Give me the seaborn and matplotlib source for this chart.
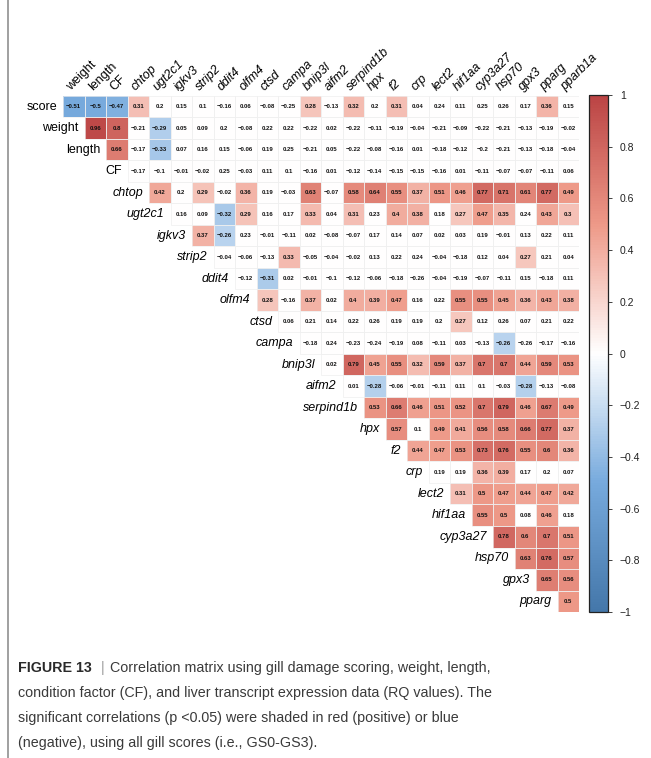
import numpy as np
import pandas as pd
import matplotlib
matplotlib.use("Agg")
import matplotlib.pyplot as plt
from matplotlib.colors import LinearSegmentedColormap
from matplotlib.lines import Line2D
from matplotlib.patches import Rectangle
from matplotlib.collections import PatchCollection
from matplotlib import font_manager
import seaborn as sns

# Variables in matrix order
variables = ["score", "weight", "length", "CF", "chtop", "ugt2c1", "igkv3",
             "strip2", "ddit4", "olfm4", "ctsd", "campa", "bnip3l", "aifm2",
             "serpind1b", "hpx", "f2", "crp", "lect2", "hif1aa", "cyp3a27",
             "hsp70", "gpx3", "pparg", "pparb1a"]

# Upper-triangle correlations, one list per row (columns start right of the diagonal)
r_score = [-0.51, -0.5, -0.47, 0.31, 0.2, 0.15, 0.1, -0.16, 0.06, -0.08, -0.25, 0.28,
           -0.13, 0.32, 0.2, 0.31, 0.04, 0.24, 0.11, 0.25, 0.26, 0.17, 0.36, 0.15]
r_weight = [0.96, 0.8, -0.21, -0.29, 0.05, 0.09, 0.2, -0.08, 0.22, 0.22, -0.22, 0.02,
            -0.22, -0.11, -0.19, -0.04, -0.21, -0.09, -0.22, -0.21, -0.13, -0.19, -0.02]
r_length = [0.66, -0.17, -0.33, 0.07, 0.16, 0.15, -0.06, 0.19, 0.25, -0.21, 0.05,
            -0.22, -0.08, -0.16, 0.01, -0.18, -0.12, -0.2, -0.21, -0.13, -0.18, -0.04]
r_cf = [-0.17, -0.1, -0.01, -0.02, 0.25, -0.03, 0.11, 0.1, -0.16, 0.01, -0.12,
        -0.14, -0.15, -0.15, -0.16, 0.01, -0.11, -0.07, -0.07, -0.11, 0.06]
r_chtop = [0.42, 0.2, 0.29, -0.02, 0.36, 0.19, -0.03, 0.63, -0.07, 0.58, 0.64,
           0.55, 0.37, 0.51, 0.46, 0.77, 0.71, 0.61, 0.77, 0.49]
r_ugt2c1 = [0.16, 0.09, -0.32, 0.29, 0.16, 0.17, 0.33, 0.04, 0.31, 0.23, 0.4,
            0.38, 0.18, 0.27, 0.47, 0.35, 0.24, 0.43, 0.3]
r_igkv3 = [0.37, -0.26, 0.23, -0.01, -0.11, 0.02, -0.08, -0.07, 0.17, 0.14, 0.07,
           0.02, 0.03, 0.19, -0.01, 0.13, 0.22, 0.11]
r_strip2 = [-0.04, -0.06, -0.13, 0.33, -0.05, -0.04, -0.02, 0.13, 0.22, 0.24,
            -0.04, -0.18, 0.12, 0.04, 0.27, 0.21, 0.04]
r_ddit4 = [-0.12, -0.31, 0.02, -0.01, -0.1, -0.12, -0.06, -0.18, -0.26, -0.04,
           -0.19, -0.07, -0.11, 0.15, -0.18, 0.11]
r_olfm4 = [0.28, -0.16, 0.37, 0.02, 0.4, 0.39, 0.47, 0.16, 0.22, 0.55, 0.55,
           0.45, 0.36, 0.43, 0.38]
r_ctsd = [0.06, 0.21, 0.14, 0.22, 0.26, 0.19, 0.19, 0.2, 0.27, 0.12, 0.26, 0.07,
          0.21, 0.22]
r_campa = [-0.18, 0.24, -0.23, -0.24, -0.19, 0.08, -0.11, 0.03, -0.13, -0.26,
           -0.26, -0.17, -0.16]
r_bnip3l = [0.02, 0.79, 0.45, 0.55, 0.32, 0.59, 0.37, 0.7, 0.7, 0.44, 0.59, 0.53]
r_aifm2 = [0.01, -0.28, -0.06, -0.01, -0.11, 0.11, 0.1, -0.03, -0.28, -0.13, -0.08]
r_serpind1b = [0.53, 0.66, 0.46, 0.51, 0.52, 0.7, 0.79, 0.46, 0.67, 0.49]
r_hpx = [0.57, 0.1, 0.49, 0.41, 0.56, 0.58, 0.66, 0.77, 0.37]
r_f2 = [0.44, 0.47, 0.53, 0.73, 0.76, 0.55, 0.6, 0.36]
r_crp = [0.19, 0.19, 0.36, 0.39, 0.17, 0.2, 0.07]
r_lect2 = [0.31, 0.5, 0.47, 0.44, 0.47, 0.42]
r_hif1aa = [0.55, 0.5, 0.08, 0.46, 0.18]
r_cyp3a27 = [0.78, 0.6, 0.7, 0.51]
r_hsp70 = [0.63, 0.76, 0.57]
r_gpx3 = [0.65, 0.56]
r_pparg = [0.5]

# Significance flags (p < 0.05) for the same cells, "1" = significant
sig_score = "111100000001010100000010"
sig_weight = "11010000000000000000000"
sig_length = "1010000000000000000000"
sig_cf = "000000000000000000000"
sig_chtop = "10101001011111111111"
sig_ugt2c1 = "0011001010110111011"
sig_igkv3 = "110000000000000000"
sig_strip2 = "00010000000000100"
sig_ddit4 = "0100000000000000"
sig_olfm4 = "101011100111111"
sig_ctsd = "00000000100000"
sig_campa = "0000000001000"
sig_bnip3l = "011111111111"
sig_aifm2 = "01000000100"
sig_serpind1b = "1111111111"
sig_hpx = "101111111"
sig_f2 = "11111111"
sig_crp = "0011000"
sig_lect2 = "111111"
sig_hif1aa = "11010"
sig_cyp3a27 = "1111"
sig_hsp70 = "111"
sig_gpx3 = "11"
sig_pparg = "1"

corr_rows = [r_score, r_weight, r_length, r_cf, r_chtop, r_ugt2c1, r_igkv3,
             r_strip2, r_ddit4, r_olfm4, r_ctsd, r_campa, r_bnip3l, r_aifm2,
             r_serpind1b, r_hpx, r_f2, r_crp, r_lect2, r_hif1aa, r_cyp3a27,
             r_hsp70, r_gpx3, r_pparg]
sig_rows = [sig_score, sig_weight, sig_length, sig_cf, sig_chtop, sig_ugt2c1,
            sig_igkv3, sig_strip2, sig_ddit4, sig_olfm4, sig_ctsd, sig_campa,
            sig_bnip3l, sig_aifm2, sig_serpind1b, sig_hpx, sig_f2, sig_crp,
            sig_lect2, sig_hif1aa, sig_cyp3a27, sig_hsp70, sig_gpx3, sig_pparg]

caption_head = "FIGURE 13"
caption_first = "Correlation matrix using gill damage scoring, weight, length,"
caption_lines = [
    "condition factor (CF), and liver transcript expression data (RQ values). The",
    "significant correlations (p <0.05) were shaded in red (positive) or blue",
    "(negative), using all gill scores (i.e., GS0-GS3).",
]


def fmt(v):
    s = f"{v:.2f}".rstrip("0").rstrip(".")
    return s.replace("-", "\u2212")


n = len(variables) - 1
values = np.full((n, n), np.nan)
shade = np.full((n, n), np.nan)
labels = np.full((n, n), "", dtype=object)
for i, (rv, sv) in enumerate(zip(corr_rows, sig_rows)):
    for k, (v, s) in enumerate(zip(rv, sv)):
        j = i + k
        values[i, j] = v
        shade[i, j] = v if s == "1" else 0.0
        labels[i, j] = fmt(v)
mask = np.isnan(values)

sns.set_theme(style="white")
plt.rcParams["font.family"] = ["Liberation Sans", "DejaVu Sans"]

installed = {f.name for f in font_manager.fontManager.ttflist}
if "Liberation Sans Narrow" in installed:
    caption_family, caption_size = ["Liberation Sans Narrow"], 12.5
else:
    caption_family, caption_size = ["Liberation Sans"], 10.3

W, H = 651, 758
fig = plt.figure(figsize=(W / 100, H / 100), dpi=100)
fig.patch.set_facecolor("white")

ax = fig.add_axes([63 / W, 1 - 612 / H, 516 / W, 516 / H])
cax = fig.add_axes([589 / W, 1 - 612 / H, 19 / W, 517 / H])

cmap = LinearSegmentedColormap.from_list(
    "corrplot", ["#4477AA", "#77AADD", "#FFFFFF", "#EE9988", "#BB4444"], N=200)

df = pd.DataFrame(shade, index=variables[:-1], columns=variables[1:])
sns.heatmap(df, mask=mask, cmap=cmap, vmin=-1, vmax=1,
            annot=labels, fmt="",
            annot_kws=dict(fontsize=4.3, fontweight="bold", color="#111111"),
            linewidths=0,
            cbar=True, cbar_ax=cax, ax=ax,
            xticklabels=False, yticklabels=False)
ax.set_xlabel("")
ax.set_ylabel("")
for sp in ax.spines.values():
    sp.set_visible(False)

# Faint cell borders, upper triangle only
cells = [Rectangle((j, i), 1, 1) for i in range(n) for j in range(n) if not mask[i, j]]
ax.add_collection(PatchCollection(cells, facecolor="none", edgecolor="#EFEFEF",
                                  linewidth=0.5, zorder=1.5))

# Row labels sit just left of each row's first cell
for i, name in enumerate(variables[:-1]):
    ax.text(i - 0.27, i + 0.5, name, ha="right", va="center", fontsize=9,
            style="italic" if i >= 4 else "normal", color="black")

# Column labels along the top, rotated 45 degrees
for j, name in enumerate(variables[1:]):
    ax.text(j + 0.38, -0.22, name, rotation=45, rotation_mode="anchor",
            ha="left", va="baseline", fontsize=9,
            style="italic" if j >= 3 else "normal", color="black")

# Colour bar
cbar = ax.collections[0].colorbar
ticks = np.round(np.linspace(-1, 1, 11), 1)
cbar.set_ticks(ticks)
cbar.set_ticklabels([fmt(t) if abs(t) > 1e-9 else "0" for t in ticks])
cbar.outline.set_visible(True)
cbar.outline.set_linewidth(0.9)
cbar.outline.set_edgecolor("#222222")
cax.tick_params(axis="y", direction="out", length=3, width=0.6, pad=5.5,
                labelsize=7.5, colors="#222222", right=True, left=False)
cax.yaxis.set_ticks_position("right")

# Caption under the matrix
txt_color = "#3a3a3a"
y0 = 1 - 672 / H
fig.text(18 / W, y0, caption_head, family=caption_family, fontsize=caption_size,
         fontweight="bold", color="#2a2a2a", va="baseline", ha="left")
fig.text(101 / W, y0, "|", family=caption_family, fontsize=caption_size,
         color="#9a9a9a", va="baseline", ha="left")
fig.text(110 / W, y0, caption_first, family=caption_family, fontsize=caption_size,
         color=txt_color, va="baseline", ha="left")
for k, line in enumerate(caption_lines):
    fig.text(18 / W, 1 - (697 + 25 * k) / H, line, family=caption_family,
             fontsize=caption_size, color=txt_color, va="baseline", ha="left")

# Thin grey rule along the left margin
fig.add_artist(Line2D([7.5 / W, 7.5 / W], [0, 1], transform=fig.transFigure,
                      color="#a0a0a0", lw=1.4))

fig.savefig("out.png", dpi=100, facecolor="white")
